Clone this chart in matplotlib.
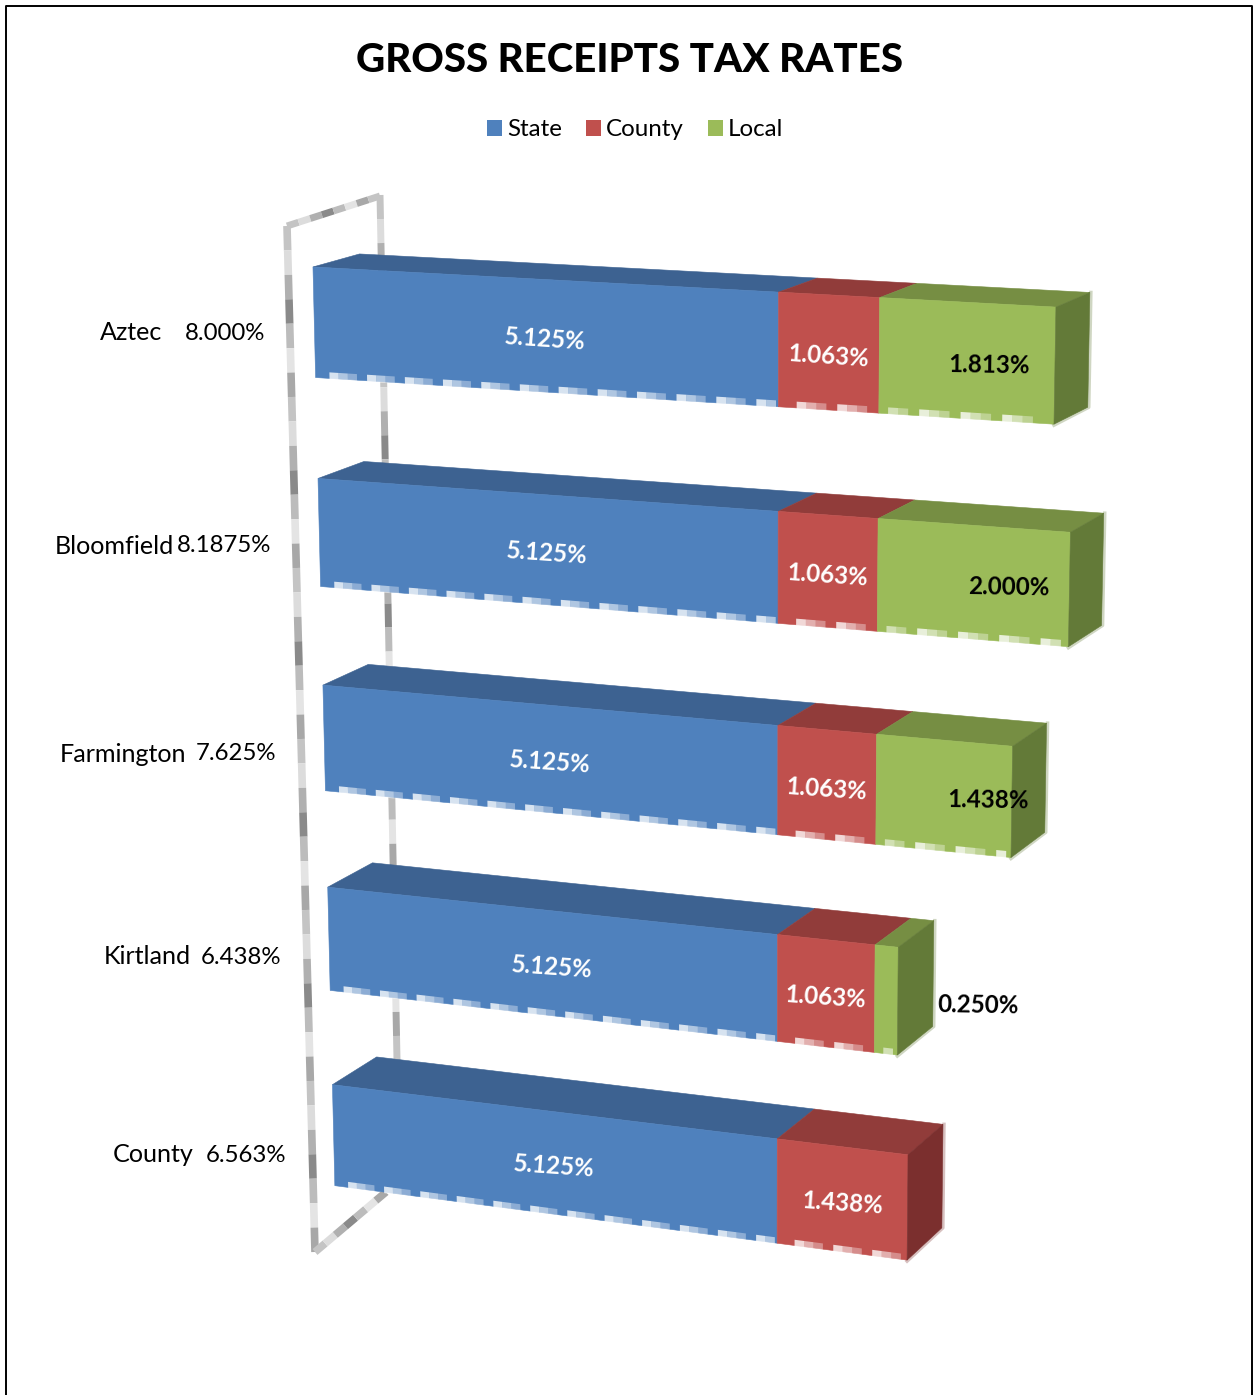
import numpy as np
import matplotlib
matplotlib.use("Agg")
import matplotlib.pyplot as plt
from matplotlib.patches import Patch, Polygon

plt.rcParams["font.family"] = ["Lato", "DejaVu Sans"]

# chart values
cities = ["Aztec", "Bloomfield", "Farmington", "Kirtland", "County"]
totals = ["8.000%", "8.1875%", "7.625%", "6.438%", "6.563%"]
state = [5.125, 5.125, 5.125, 5.125, 5.125]
county = [1.063, 1.063, 1.063, 1.063, 1.438]
local = [1.813, 2.000, 1.438, 0.250, 0.0]
series_names = ["State", "County", "Local"]

# colours per series: front, top, side
front = ["#4F81BD", "#C0504D", "#9BBB59"]
top = ["#3D6291", "#913C3A", "#768E43"]
side = ["#34557D", "#7B2F2E", "#637A38"]
label_color = ["white", "white", "black"]
label_rot = [-4, -4, -1]
label_dx = [3, 0, 3]

# where the local labels sit relative to the middle of their segment
local_shift = [(20, 1), (33, 1), (42, 0), (89, 1)]

name_right = [162, 174, 186, 191, 194]
total_right = [265, 271, 276, 281, 286]
label_y = [333, 546, 754, 957, 1155]

BAR_H = 0.52

# camera calibration:
# row, value, height 0-1, depth 0-1, pixel x, pixel y
calib = [
    (0, 0, 0, 0, 312, 267), (0, 0, 1, 0, 315, 380), (0, 5.125, 0, 0, 779, 293),
    (0, 5.125, 1, 0, 779, 406), (0, 8.001, 0, 0, 1057, 307), (0, 8.001, 1, 0, 1055, 423),
    (0, 0, 0, 1, 360, 252), (0, 8.001, 0, 1, 1088, 292), (0, 8.001, 1, 1, 1087, 408),
    (1, 0, 0, 0, 317, 479), (1, 0, 1, 0, 320, 588), (1, 5.125, 0, 0, 779, 514),
    (1, 5.125, 1, 0, 778, 622), (1, 8.188, 0, 0, 1071, 533), (1, 8.188, 1, 0, 1068, 645),
    (1, 0, 0, 1, 366, 460), (1, 8.188, 0, 1, 1103, 513), (1, 8.188, 1, 1, 1102, 629),
    (2, 0, 0, 0, 322, 686), (2, 0, 1, 0, 325, 791), (2, 5.125, 0, 0, 778, 725),
    (2, 5.125, 1, 0, 778, 832), (2, 7.626, 0, 0, 1013, 745), (2, 7.626, 1, 0, 1011, 857),
    (2, 0, 0, 1, 368, 663), (2, 7.626, 0, 1, 1046, 722), (2, 7.626, 1, 1, 1045, 835),
    (3, 0, 0, 0, 328, 889), (3, 0, 1, 0, 330, 991), (3, 5.125, 0, 0, 778, 936),
    (3, 5.125, 1, 0, 777, 1041), (3, 6.438, 0, 0, 898, 945), (3, 6.438, 1, 0, 897, 1055),
    (3, 0, 0, 1, 372, 862), (3, 6.438, 0, 1, 934, 918), (3, 6.438, 1, 1, 933, 1030),
    (4, 0, 0, 0, 333, 1085), (4, 0, 1, 0, 335, 1186), (4, 5.125, 0, 0, 777, 1138),
    (4, 5.125, 1, 0, 776, 1242), (4, 6.563, 0, 0, 909, 1155), (4, 6.563, 1, 0, 907, 1260),
    (4, 0, 0, 1, 378, 1055), (4, 6.563, 0, 1, 943, 1122), (4, 6.563, 1, 1, 941, 1232),
]


def fit_camera(points):
    rows = []
    rhs = []
    for r, v, h, d, px, py in points:
        X = np.array([v, r + BAR_H * h, d, 1.0])
        rows.append(np.r_[X, np.zeros(4), -px * X[:3]])
        rows.append(np.r_[np.zeros(4), X, -py * X[:3]])
        rhs += [px, py]
    sol = np.linalg.lstsq(np.array(rows), np.array(rhs, dtype=float), rcond=None)[0]
    return np.r_[sol, 1.0].reshape(3, 4)


cam = fit_camera(calib)


def project(row, value, h, d):
    p = cam @ np.array([value, row + BAR_H * h, d, 1.0])
    return p[0] / p[2], p[1] / p[2]


def wall_line(ax, p0, p1, lw, step=24):
    # the wall edges in the original are blotchy grey, drawn as chunks here
    greys = ["#c4c4c4", "#dcdcdc", "#b0b0b0", "#8a8a8a", "#bcbcbc", "#e4e4e4", "#a8a8a8"]
    p0 = np.array(p0, dtype=float)
    p1 = np.array(p1, dtype=float)
    n = max(int(np.hypot(*(p1 - p0)) / step), 1)
    for k in range(n):
        a = p0 + (p1 - p0) * k / n
        b = p0 + (p1 - p0) * (k + 1) / n
        ax.plot([a[0], b[0]], [a[1], b[1]], color=greys[k % len(greys)], lw=lw,
                solid_capstyle="butt", zorder=1)


fig = plt.figure(figsize=(12.55, 13.95), dpi=100)
ax = fig.add_axes([0, 0, 1, 1])
ax.set_xlim(0, 1255)
ax.set_ylim(1395, 0)
ax.axis("off")

# outer border of the screenshot
ax.plot([6, 6, 1252, 1252], [1395, 6, 6, 1395], color="black", lw=1.4, zorder=5)

ax.text(630, 60, "GROSS RECEIPTS TAX RATES", fontsize=29, fontweight="black",
        ha="center", va="center", color="black")

handles = [Patch(facecolor=c, edgecolor="none", label=n) for c, n in zip(front, series_names)]
ax.legend(handles=handles, ncol=3, frameon=False, fontsize=17.4, loc="center",
          bbox_to_anchor=(635, 130), bbox_transform=ax.transData,
          handlelength=0.62, handleheight=0.62, handletextpad=0.2, columnspacing=1.0,
          labelcolor="black")

# chart wall
wall_line(ax, (380, 195), (397, 1060), 5)
wall_line(ax, (287, 226), (380, 196), 5, step=12)
wall_line(ax, (287, 226), (315, 1252), 5.5)
wall_line(ax, (315, 1252), (386, 1192), 5.5, step=12)

for i in range(len(cities)):
    segs = [state[i], county[i], local[i]]
    start = 0.0
    last = max(j for j, s in enumerate(segs) if s > 0)
    for j, s in enumerate(segs):
        if s <= 0:
            continue
        end = start + s
        pts_top = [project(i, start, 0, 0), project(i, end, 0, 0),
                   project(i, end, 0, 1), project(i, start, 0, 1)]
        pts_front = [project(i, start, 0, 0), project(i, end, 0, 0),
                     project(i, end, 1, 0), project(i, start, 1, 0)]
        ax.add_patch(Polygon(pts_top, closed=True, fc=top[j], ec=top[j], lw=0.4, zorder=3 + i * 0.1))
        ax.add_patch(Polygon(pts_front, closed=True, fc=front[j], ec=front[j], lw=0.4, zorder=3 + i * 0.1))
        if j == last:
            pts_side = [project(i, end, 0, 0), project(i, end, 0, 1),
                        project(i, end, 1, 1), project(i, end, 1, 0)]
            ax.add_patch(Polygon(pts_side, closed=True, fc=side[j], ec=side[j], lw=0.4, zorder=3 + i * 0.1))
            # pale fringe on the outer edges of the end cap
            a = project(i, end, 0, 1)
            b = project(i, end, 1, 1)
            c = project(i, end, 1, 0)
            ax.plot([a[0] + 1, b[0] + 1, c[0]], [a[1], b[1], c[1] + 1], color=side[j], alpha=0.3,
                    lw=2.5, zorder=3 + i * 0.1)

        # pale blocks along the lower front edge
        v = start + 0.16 - (start % 0.43)
        while v < end - 0.05:
            for k, al in enumerate([0.78, 0.55, 0.35]):
                v0 = v + k * 0.105
                v1 = v0 + 0.105
                if v0 < start or v1 > end:
                    continue
                quad = [project(i, v0, 0.945, 0), project(i, v1, 0.945, 0),
                        project(i, v1, 1.01, 0), project(i, v0, 1.01, 0)]
                ax.add_patch(Polygon(quad, closed=True, fc="white", ec="none", alpha=al,
                                     zorder=3.05 + i * 0.1))
            v += 0.43

        # data label
        cx, cy = project(i, (start + end) / 2, 0.5, 0)
        cx += label_dx[j]
        cy += 4
        if j == 2:
            cx += local_shift[i][0]
            cy += local_shift[i][1]
        ax.text(cx, cy, "%.3f%%" % s, color=label_color[j], fontsize=17.4, fontweight="bold",
                rotation=label_rot[j], rotation_mode="anchor", ha="center", va="center",
                zorder=6)
        start = end

    ax.text(name_right[i], label_y[i], cities[i], fontsize=18.1, ha="right", va="center", color="black")
    ax.text(total_right[i], label_y[i], totals[i], fontsize=17.3, ha="right", va="center", color="black")

fig.savefig("out.png", dpi=100)
